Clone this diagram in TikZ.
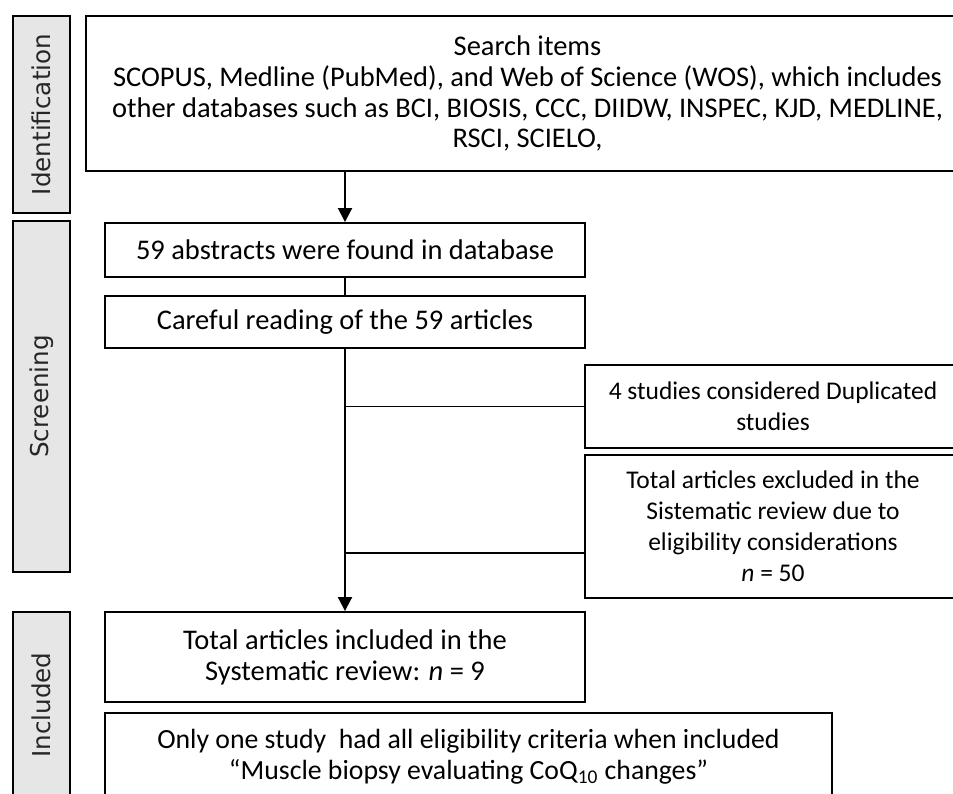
\documentclass[tikz,border=0pt]{standalone}
\usepackage{fontspec}
\setmainfont{Carlito}
\newfontfamily\phasefont{DejaVu Sans}
\usetikzlibrary{arrows.meta, calc}
\definecolor{phasegray}{HTML}{E6E6E6}

\begin{document}
\begin{tikzpicture}[
        x=0.02cm, y=-0.02cm,
        phase_box/.style={rectangle, draw=black, fill=phasegray, line width=1.1pt, rotate=90,
                          minimum width=#1, minimum height=1.14cm, inner sep=0pt,
                          font=\phasefont\fontsize{14}{16}\selectfont, text=black!85},
        step_box/.style={rectangle, draw=black, line width=1.1pt, align=center, inner sep=0pt,
                         font=\fontsize{16.2}{17.6}\selectfont},
        side_box/.style={step_box, font=\fontsize{14.5}{17.6}\selectfont},
        flow/.style={-{Triangle[length=0.28cm, width=0.28cm]}, line width=1.1pt},
        branch/.style={line width=1.1pt}
    ]

    \useasboundingbox (0,0) rectangle (953,794);
    \clip (0,0) rectangle (953,794);

    % phases
    \node[phase_box=3.94cm] (ident) at (41.5,114.5) {Identification};
    \node[phase_box=7.02cm] (screen) at (41.5,396.5) {Screening};
    \node[phase_box=3.72cm] (incl) at (41.5,705) {Included};

    % steps
    \node[step_box, minimum width=17.66cm, minimum height=3.10cm] (search) at (527.5,93.5)
        {Search items\\SCOPUS, Medline (PubMed), and Web of Science (WOS), which includes\\other databases such as BCI, BIOSIS, CCC, DIIDW, INSPEC, KJD, MEDLINE,\\RSCI, SCIELO,};
    \node[step_box, minimum width=9.6cm, minimum height=1.08cm] (found) at (345,250)
        {59 abstracts were found in database};
    \node[step_box, minimum width=9.6cm, minimum height=1.04cm] (careful) at (345,322)
        {Careful reading of the 59 articles};
    \node[side_box, minimum width=7.52cm, minimum height=1.66cm] (dup) at (773,406.5)
        {4 studies considered Duplicated\\studies};
    \node[side_box, minimum width=7.52cm, minimum height=2.86cm] (excl) at (773,526.5)
        {Total articles excluded in the\\Sistematic review due to\\eligibility considerations\\\textit{n} = 50};
    \node[step_box, minimum width=9.6cm, minimum height=1.8cm] (included) at (345,657)
        {Total articles included in the\\Systematic review: \textit{n} = 9};
    \node[step_box, minimum width=14.54cm, minimum height=1.74cm, font=\fontsize{15.8}{17.6}\selectfont] (onlyone) at (468.5,756.5)
        {Only one study\ \ had all eligibility criteria when included\\``Muscle biopsy evaluating CoQ\textsubscript{10} changes''};

    % connectors
    \draw[flow] (search.south -| found.north) -- (found.north);
    \draw[branch] (found.south) -- (careful.north);
    \draw[flow] (careful.south) -- (included.north);
    \coordinate (excl_in) at ($(excl.south west)!0.32!(excl.north west)$);
    \draw[branch] (careful.south |- dup.west) -- (dup.west);
    \draw[branch] (careful.south |- excl_in) -- (excl_in);
\end{tikzpicture}
\end{document}
